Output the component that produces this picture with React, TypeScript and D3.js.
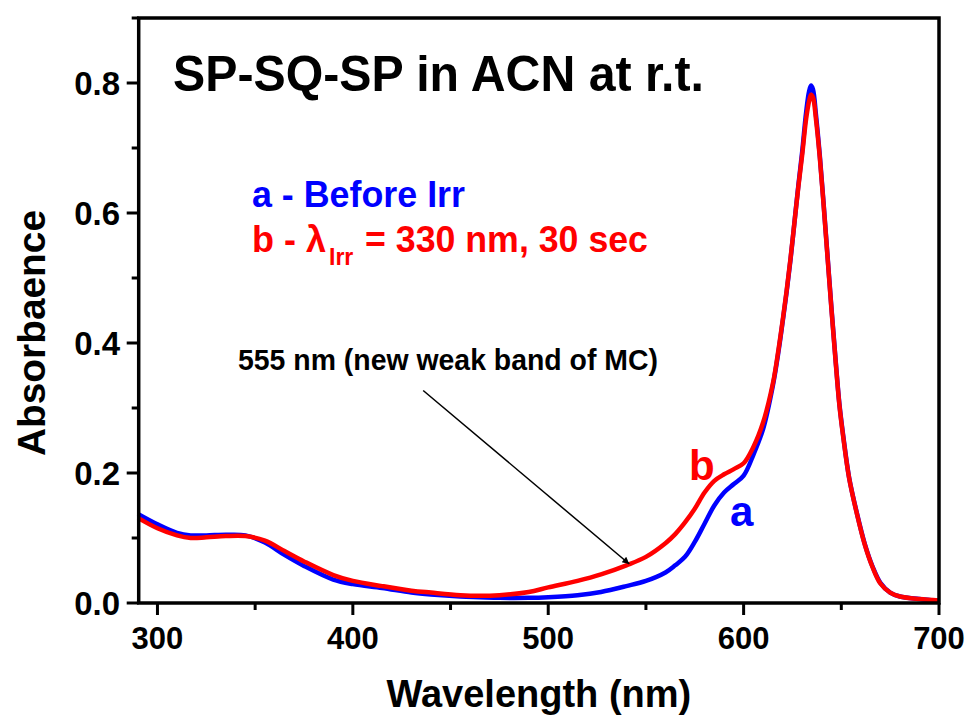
import React from "react";
import * as d3 from "d3";

// Wavelength grid (nm) and absorbance of both spectra
const wavelengths = [
  290, 300, 310, 317, 325, 335, 345, 355, 365, 375, 390, 400, 415, 430, 440,
  455, 465, 475, 490, 500, 515, 527, 540, 550, 560, 565, 570, 575, 580, 585,
  590, 595, 600, 605, 610, 615, 618, 620, 622, 624, 626, 628, 630, 632, 633.5,
  634.5, 635.5, 637, 639, 641, 643, 645, 647, 649, 651, 654, 658, 662, 666,
  670, 675, 680, 690, 700,
];

// a - before irradiation
const absBefore = [
  0.137, 0.121, 0.108, 0.104, 0.104, 0.105, 0.104, 0.093, 0.074, 0.057, 0.036,
  0.029, 0.023, 0.016, 0.013, 0.010, 0.009, 0.008, 0.008, 0.009, 0.012, 0.017,
  0.026, 0.034, 0.047, 0.058, 0.071, 0.094, 0.122, 0.150, 0.170, 0.183, 0.196,
  0.228, 0.268, 0.335, 0.390, 0.433, 0.478, 0.528, 0.585, 0.642, 0.695, 0.755,
  0.787, 0.796, 0.790, 0.752, 0.688, 0.612, 0.532, 0.452, 0.377, 0.307, 0.257,
  0.193, 0.138, 0.091, 0.056, 0.031, 0.016, 0.010, 0.006, 0.003,
];

// b - after 330 nm irradiation, 30 s
const absAfter = [
  0.131, 0.115, 0.104, 0.100, 0.101, 0.103, 0.103, 0.096, 0.080, 0.064, 0.043,
  0.034, 0.026, 0.019, 0.016, 0.012, 0.011, 0.012, 0.017, 0.024, 0.034, 0.044,
  0.058, 0.071, 0.092, 0.106, 0.124, 0.145, 0.170, 0.188, 0.198, 0.206, 0.215,
  0.240, 0.278, 0.338, 0.393, 0.435, 0.480, 0.530, 0.585, 0.640, 0.690, 0.745,
  0.772, 0.782, 0.778, 0.745, 0.685, 0.610, 0.530, 0.450, 0.375, 0.305, 0.255,
  0.192, 0.137, 0.090, 0.055, 0.030, 0.016, 0.010, 0.006, 0.004,
];

const xMajorTicks = [300, 400, 500, 600, 700];
const xMinorTicks = [350, 450, 550, 650];
const yMajorTicks = [0.0, 0.2, 0.4, 0.6, 0.8];
const yMinorTicks = [0.1, 0.3, 0.5, 0.7, 0.9];

// annotation arrow: from label to the new MC band on curve b
const arrowFrom: [number, number] = [436, 0.327];
const arrowTo: [number, number] = [541.5, 0.06];

const FONT = "'Liberation Sans', Arial, Helvetica, sans-serif";
const BLUE = "#0000ff";
const RED = "#ff0000";

export default function App() {
  const width = 973;
  const height = 720;
  const left = 138.7;
  const right = 939;
  const top = 18;
  const bottom = 603;

  const x = d3.scaleLinear().domain([290.4, 700]).range([left, right]);
  const y = d3.scaleLinear().domain([0, 0.9]).range([bottom, top]);

  const line = (vals: number[]) =>
    d3
      .line<number>()
      .x((_, i) => x(wavelengths[i]))
      .y((d) => y(d))
      .curve(d3.curveCatmullRom.alpha(0.5))(vals) || "";

  const ax1 = x(arrowFrom[0]);
  const ay1 = y(arrowFrom[1]);
  const ax2 = x(arrowTo[0]);
  const ay2 = y(arrowTo[1]);

  return (
    <svg
      width={width}
      height={height}
      style={{ position: "absolute", left: 0, top: 0, background: "#fff" }}
      fontFamily={FONT}
      fontWeight="bold"
    >
      <defs>
        <marker
          id="arrowHead"
          viewBox="0 0 10 10"
          refX="10"
          refY="5"
          markerWidth="9"
          markerHeight="7"
          markerUnits="userSpaceOnUse"
          orient="auto"
        >
          <path d="M0,0 L10,5 L0,10 z" fill="#000" />
        </marker>
      </defs>
      <rect width={width} height={height} fill="#fff" />

      {/* spectra */}
      <path d={line(absBefore)} fill="none" stroke={BLUE} strokeWidth={4.5} strokeLinejoin="round" />
      <path d={line(absAfter)} fill="none" stroke={RED} strokeWidth={4.5} strokeLinejoin="round" />

      {/* frame */}
      <rect
        x={left}
        y={top}
        width={right - left}
        height={bottom - top}
        fill="none"
        stroke="#000"
        strokeWidth={3.5}
      />

      {/* x ticks */}
      {xMajorTicks.map((t) => (
        <g key={"xM" + t}>
          <line x1={x(t)} x2={x(t)} y1={bottom} y2={bottom + 12} stroke="#000" strokeWidth={3} />
          <text x={x(t)} y={649} textAnchor="middle" fontSize={31}>
            {t}
          </text>
        </g>
      ))}
      {xMinorTicks.map((t) => (
        <line key={"xm" + t} x1={x(t)} x2={x(t)} y1={bottom} y2={bottom + 7} stroke="#000" strokeWidth={3} />
      ))}

      {/* y ticks */}
      {yMajorTicks.map((t) => (
        <g key={"yM" + t}>
          <line x1={left - 12} x2={left} y1={y(t)} y2={y(t)} stroke="#000" strokeWidth={3} />
          <text x={120} y={y(t) + 12} textAnchor="end" fontSize={33}>
            {t.toFixed(1)}
          </text>
        </g>
      ))}
      {yMinorTicks.map((t) => (
        <line key={"ym" + t} x1={left - 7} x2={left} y1={y(t)} y2={y(t)} stroke="#000" strokeWidth={3} />
      ))}

      {/* axis titles */}
      <text x={(left + right) / 2} y={707} textAnchor="middle" fontSize={38}>
        Wavelength (nm)
      </text>
      <text
        transform={`translate(45, ${333}) rotate(-90)`}
        textAnchor="middle"
        fontSize={38}
        textLength={246}
        lengthAdjust="spacingAndGlyphs"
      >
        Absorbaence
      </text>

      {/* title */}
      <text x={173} y={91} fontSize={50} textLength={531} lengthAdjust="spacingAndGlyphs">
        SP-SQ-SP in ACN at r.t.
      </text>

      {/* legend */}
      <text x={252} y={207} fontSize={36} fill={BLUE} textLength={213} lengthAdjust="spacingAndGlyphs">
        a - Before Irr
      </text>
      <text x={252} y={252} fontSize={36} fill={RED}>
        b - λ
      </text>
      <text x={329} y={265} fontSize={23} fill={RED}>
        Irr
      </text>
      <text x={365} y={252} fontSize={36} fill={RED} textLength={283} lengthAdjust="spacingAndGlyphs">
        = 330 nm, 30 sec
      </text>

      {/* annotation */}
      <text x={238} y={370} fontSize={29} textLength={420} lengthAdjust="spacingAndGlyphs">
        555 nm (new weak band of MC)
      </text>
      <line x1={ax1} y1={ay1} x2={ax2} y2={ay2} stroke="#000" strokeWidth={1.5} markerEnd="url(#arrowHead)" />

      {/* curve labels */}
      <text x={689} y={480} fontSize={42} fill={RED}>
        b
      </text>
      <text x={730} y={526} fontSize={42} fill={BLUE}>
        a
      </text>
    </svg>
  );
}
